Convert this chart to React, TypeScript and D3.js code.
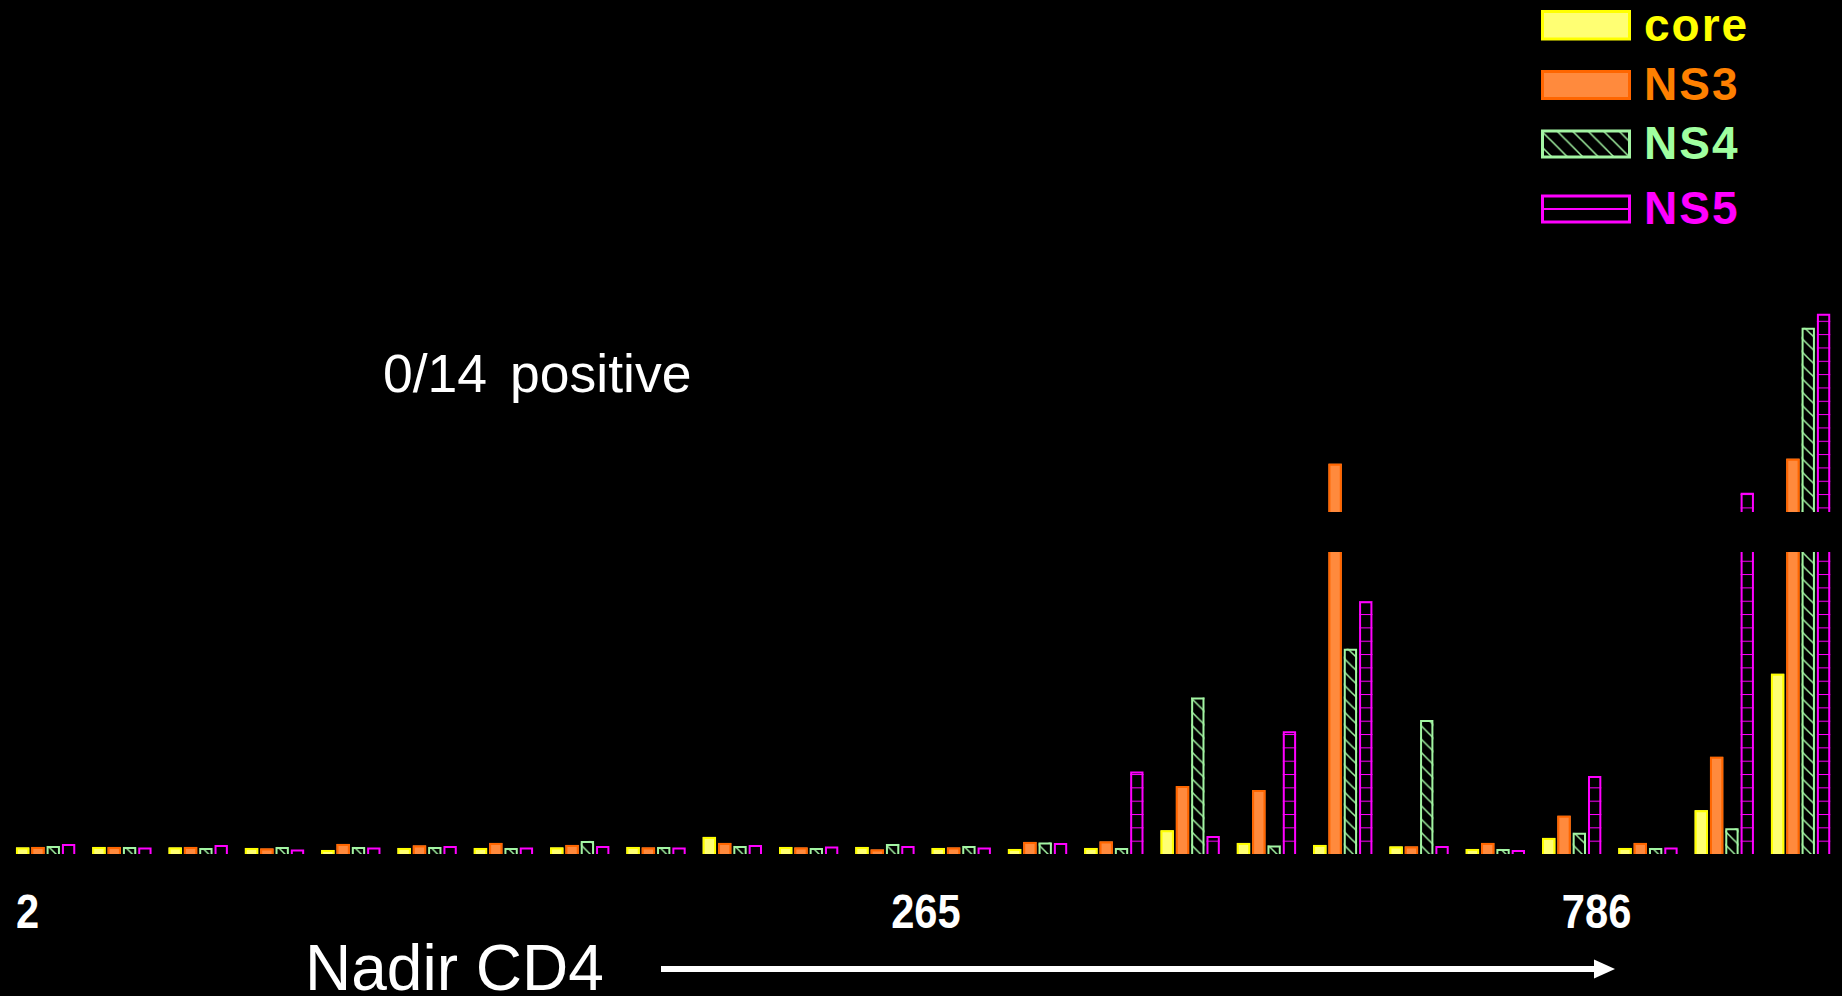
import React from "react";
import * as d3 from "d3";

// Patients ordered by nadir CD4 count (low → high)
const patients = [
  "pt01", "pt02", "pt03", "pt04", "pt05", "pt06", "pt07", "pt08",
  "pt09", "pt10", "pt11", "pt12", "pt13", "pt14", "pt15", "pt16",
  "pt17", "pt18", "pt19", "pt20", "pt21", "pt22", "pt23", "pt24",
];

const seriesNames = ["core", "NS3", "NS4", "NS5"];

// Responses per antigen (lower panel 0–300, upper panel starts at 400)
const coreValues = [6.5, 7, 6.5, 6, 4, 6, 6, 6.5, 7, 17, 7, 7, 6, 5, 6, 23.5, 11, 9, 7.5, 5, 16, 6, 43.5, 179];
const ns3Values = [7, 7, 7, 5.5, 10, 8.5, 11, 9, 6.5, 11, 6.5, 4.5, 6.5, 12, 12.5, 67.5, 63.5, 448, 7.5, 11, 38, 11, 96.5, 453];
const ns4Values = [8, 7, 6, 7, 7, 7, 6, 13, 7, 8, 6, 10, 8, 11.5, 6, 155.5, 8.5, 204, 133, 5, 21, 6, 25.5, 583];
const ns5Values = [10, 6.5, 9, 4.5, 6.5, 8, 6.5, 8, 6.5, 9, 7.5, 8, 6.5, 11, 82, 18, 122, 251, 8, 4, 77.5, 6.5, 419, 597];

// Nadir CD4 markers along the patient axis (position in patient units)
const cd4Labels = ["2", "265", "786"];
const cd4LabelAt = [0, 11.47, 20.26];

const W = 1842;
const H = 996;

const lowerMax = 300;
const upperMin = 400;
const upperMax = 800;

const x = d3
  .scaleBand<string>()
  .domain(patients)
  .range([7.5, 1838.7])
  .paddingInner(0.223)
  .paddingOuter(0.111);

const xInner = d3
  .scaleBand<string>()
  .domain(seriesNames)
  .range([0, x.bandwidth()])
  .paddingInner(0.13);

const yLow = d3.scaleLinear().domain([0, lowerMax]).range([854, 552]);
const pxPerUnit = (854 - 552) / lowerMax;
const yHigh = d3
  .scaleLinear()
  .domain([upperMin, upperMax])
  .range([512, 512 - (upperMax - upperMin) * pxPerUnit]);

const styles: Record<string, { fill: string; stroke: string; text: string }> = {
  core: { fill: "#ffff73", stroke: "#ffff00", text: "#ffff00" },
  NS3: { fill: "#ff8a3d", stroke: "#ff6600", text: "#ff8000" },
  NS4: { fill: "url(#hatchNS4)", stroke: "#a3f5a3", text: "#a0ffa0" },
  NS5: { fill: "url(#linesNS5)", stroke: "#ff00ff", text: "#ff00ff" },
};

const valuesBySeries: Record<string, number[]> = {
  core: coreValues,
  NS3: ns3Values,
  NS4: ns4Values,
  NS5: ns5Values,
};

type Segment = { top: number; bottom: number; capped: boolean };

function segmentsFor(v: number): Segment[] {
  if (v <= lowerMax) return [{ top: yLow(v), bottom: yLow(0), capped: true }];
  return [
    { top: yLow(lowerMax), bottom: yLow(0), capped: false },
    { top: yHigh(v), bottom: yHigh(upperMin), capped: true },
  ];
}

function Bar({ x0, w, v, s }: { x0: number; w: number; v: number; s: string }) {
  const st = styles[s];
  const sw = 2;
  return (
    <g>
      {segmentsFor(v).map((seg, i) => {
        const l = x0 + sw / 2;
        const r = x0 + w - sw / 2;
        const t = seg.top + sw / 2;
        const outline = seg.capped
          ? `M${l},${seg.bottom}V${t}H${r}V${seg.bottom}`
          : `M${l},${seg.bottom}V${seg.top}M${r},${seg.top}V${seg.bottom}`;
        return (
          <g key={i}>
            <rect x={x0} y={seg.top} width={w} height={seg.bottom - seg.top} fill={st.fill} />
            <path d={outline} fill="none" stroke={st.stroke} strokeWidth={sw} />
          </g>
        );
      })}
    </g>
  );
}

export default function App() {
  const legendX = 1541;
  const legendTops = [10, 70, 129.5, 194.5];
  const legendBase = [40.5, 100, 158.5, 223.5];
  const t = 13.33;
  const font = "'Liberation Sans', Arial, sans-serif";

  return (
    <div style={{ position: "fixed", left: 0, top: 0, width: W, height: H, background: "#000" }}>
      <svg width={W} height={H} style={{ display: "block", background: "#000" }}>
        <defs>
          <pattern id="hatchNS4" patternUnits="userSpaceOnUse" width={t} height={t} patternTransform="translate(0,854)">
            <rect width={t} height={t} fill="#000" />
            <path
              d={`M-1,-1L${t + 1},${t + 1}M-1,${t - 1}L1,${t + 1}M${t - 1},-1L${t + 1},1`}
              stroke="#a3f5a3"
              strokeWidth={1.5}
            />
          </pattern>
          <pattern id="linesNS5" patternUnits="userSpaceOnUse" width={t} height={t} patternTransform="translate(0,854)">
            <rect width={t} height={t} fill="#000" />
            <line x1={0} x2={t} y1={0} y2={0} stroke="#ff00ff" strokeWidth={2} />
          </pattern>
          <pattern id="legendHatch" patternUnits="userSpaceOnUse" width={15.5} height={15.5}>
            <rect width={15.5} height={15.5} fill="#000" />
            <path d="M-1,-1L16.5,16.5M-1,14.5L1,16.5M14.5,-1L16.5,1" stroke="#a3f5a3" strokeWidth={1.5} />
          </pattern>
        </defs>

        <rect width={W} height={H} fill="#000" />

        {/* grouped bars */}
        {patients.map((p, i) => (
          <g key={p} transform={`translate(${x(p)},0)`}>
            {seriesNames.map((s) => (
              <Bar key={s} x0={xInner(s)!} w={xInner.bandwidth()} v={valuesBySeries[s][i]} s={s} />
            ))}
          </g>
        ))}

        {/* legend */}
        {seriesNames.map((s, i) => {
          const st = styles[s];
          const top = legendTops[i];
          const h = legendBase[i] - top;
          return (
            <g key={s}>
              <rect
                x={legendX + 1.5}
                y={top + 1.5}
                width={87}
                height={h - 3}
                fill={s === "NS4" ? "url(#legendHatch)" : s === "NS5" ? "#000" : st.fill}
                stroke={st.stroke}
                strokeWidth={3}
              />
              {s === "NS5" && (
                <line x1={legendX} x2={legendX + 90} y1={top + h / 2} y2={top + h / 2} stroke={st.stroke} strokeWidth={2} />
              )}
              <text x={1644} y={legendBase[i]} fill={st.text} fontFamily={font} fontWeight="bold" fontSize={46} letterSpacing={2}>
                {s}
              </text>
            </g>
          );
        })}

        <text y={392} fill="#fff" fontFamily={font} fontSize={53.5}>
          <tspan x={383}>0/14</tspan>
          <tspan x={510}>positive</tspan>
        </text>

        {/* nadir CD4 markers */}
        {cd4Labels.map((lab, i) => {
          const lx = (x(patients[0]) as number) + x.step() * cd4LabelAt[i];
          return (
            <text
              key={lab}
              transform={`translate(${lx},928) scale(0.85,1)`}
              fill="#fff"
              fontFamily={font}
              fontWeight="bold"
              fontSize={49}
            >
              {lab}
            </text>
          );
        })}

        <text x={305} y={990} fill="#fff" fontFamily={font} fontSize={64}>
          Nadir CD4
        </text>

        <line x1={661} x2={1596} y1={969} y2={969} stroke="#fff" strokeWidth={6} />
        <path d="M1594,959.5L1615,969L1594,978.5Z" fill="#fff" />
      </svg>
    </div>
  );
}
